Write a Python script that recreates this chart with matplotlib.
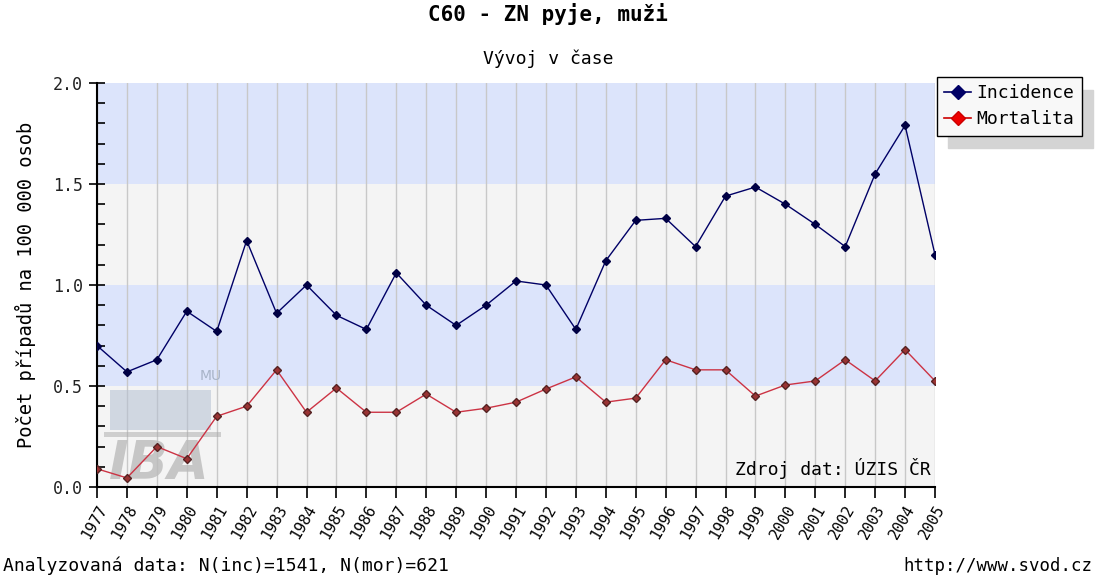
import matplotlib
matplotlib.use("Agg")
import matplotlib.pyplot as plt
from matplotlib.ticker import MultipleLocator
from matplotlib.patches import Rectangle

years = list(range(1977, 2006))
incidence = [0.70, 0.57, 0.63, 0.87, 0.77, 1.22, 0.86, 1.00, 0.85, 0.78,
             1.06, 0.90, 0.80, 0.90, 1.02, 1.00, 0.78, 1.12, 1.32, 1.33,
             1.19, 1.44, 1.485, 1.40, 1.30, 1.19, 1.55, 1.79, 1.15]
mortalita = [0.09, 0.045, 0.20, 0.14, 0.35, 0.40, 0.58, 0.37, 0.49, 0.37,
             0.37, 0.46, 0.37, 0.39, 0.42, 0.485, 0.545, 0.42, 0.44, 0.63,
             0.58, 0.58, 0.45, 0.505, 0.525, 0.63, 0.525, 0.68, 0.525]
band_edges = [0.0, 0.5, 1.0, 1.5, 2.0]

plt.rcParams['font.family'] = ['DejaVu Sans Mono', 'DejaVu Sans']
fig = plt.figure(figsize=(10.96, 5.76), dpi=100)
ax = fig.add_axes([97/1096, 89/576, 838/1096, 404/576])

band_colors = ['#f4f4f4', '#dce4fb']
for i in range(len(band_edges) - 1):
    ax.axhspan(band_edges[i], band_edges[i+1], color=band_colors[i % 2], zorder=0, lw=0)

for y in years:
    ax.axvline(y, color='#c8c8c8', lw=1, zorder=1)

# watermark logo
ax.add_patch(Rectangle((0.016, 0.14), 0.12, 0.10, transform=ax.transAxes,
                       color='#b4c0d2', alpha=0.55, zorder=1, lw=0))
ax.add_patch(Rectangle((0.008, 0.125), 0.14, 0.01, transform=ax.transAxes,
                       color='#aaaaaa', alpha=0.5, zorder=1, lw=0))
ax.text(0.014, 0.02, 'IBA', transform=ax.transAxes, fontsize=38, fontweight='bold',
        style='italic', family='DejaVu Sans', color='#bbbbbb', alpha=0.8, zorder=1)
ax.text(0.123, 0.265, 'MU', transform=ax.transAxes, fontsize=10, family='DejaVu Sans',
        color='#a8b4c8', zorder=1)

ax.plot(years, incidence, color='#000066', lw=1, marker='D', ms=4.5,
        mfc='#000044', mec='#000044', zorder=3, label='Incidence')
ax.plot(years, mortalita, color='#cc3344', lw=1, marker='D', ms=4.5,
        mfc='#993333', mec='#552222', zorder=3, label='Mortalita')

ax.set_xlim(1977, 2005)
ax.set_ylim(0, 2.0)
ax.set_xticks(years)
ax.set_xticklabels([str(y) for y in years], rotation=60, ha='right',
                   rotation_mode='anchor', fontsize=11)
ax.set_yticks([0.0, 0.5, 1.0, 1.5, 2.0])
ax.yaxis.set_minor_locator(MultipleLocator(0.1))
ax.set_yticklabels(['%.1f' % v for v in [0.0, 0.5, 1.0, 1.5, 2.0]], fontsize=12,
                   color='#222222')
ax.tick_params(axis='y', which='major', direction='inout', length=12, width=1.2, pad=4)
ax.tick_params(axis='y', which='minor', direction='in', length=6, width=1.2)
ax.tick_params(axis='x', direction='out', length=8, width=1.2, pad=3)
for s in ['top', 'right']:
    ax.spines[s].set_visible(False)
ax.spines['left'].set_linewidth(1.5)
ax.spines['bottom'].set_linewidth(1.5)
ax.set_ylabel('Počet případů na 100 000 osob', fontsize=13.5, labelpad=12)

ax.text(0.995, 0.02, 'Zdroj dat: ÚZIS ČR', transform=ax.transAxes, ha='right',
        va='bottom', fontsize=13, zorder=4)

fig.text(0.5, 1 - 14/576, 'C60 - ZN pyje, muži', ha='center', va='center',
         fontsize=15, fontweight='bold')
fig.text(0.5, 1 - 59/576, 'Vývoj v čase', ha='center', va='center', fontsize=13)
fig.text(3/1096, 1 - 566/576, 'Analyzovaná data: N(inc)=1541, N(mor)=621',
         ha='left', va='center', fontsize=13)
fig.text(1092/1096, 1 - 566/576, 'http://www.svod.cz', ha='right', va='center',
         fontsize=12.5)

h1, = ax.plot([], [], color='#000066', lw=1.2, marker='D', ms=7, mfc='#000066', mec='#000066')
h2, = ax.plot([], [], color='#cc0000', lw=1.2, marker='D', ms=7, mfc='#ee0000', mec='#cc0000')
leg = fig.legend([h1, h2], ['Incidence', 'Mortalita'], loc='upper left',
                 bbox_to_anchor=(937/1096, 1 - 77/576), frameon=True, fancybox=False,
                 shadow={'color': '#d4d4d4', 'alpha': 1, 'ox': 8, 'oy': -9},
                 edgecolor='black', fontsize=13,
                 handlelength=1.5, handletextpad=0.3, borderpad=0.4, labelspacing=0.45,
                 borderaxespad=0)
leg.get_frame().set_linewidth(1)
leg.get_frame().set_facecolor('#f8f8f8')

fig.savefig('out.png', dpi=100)
